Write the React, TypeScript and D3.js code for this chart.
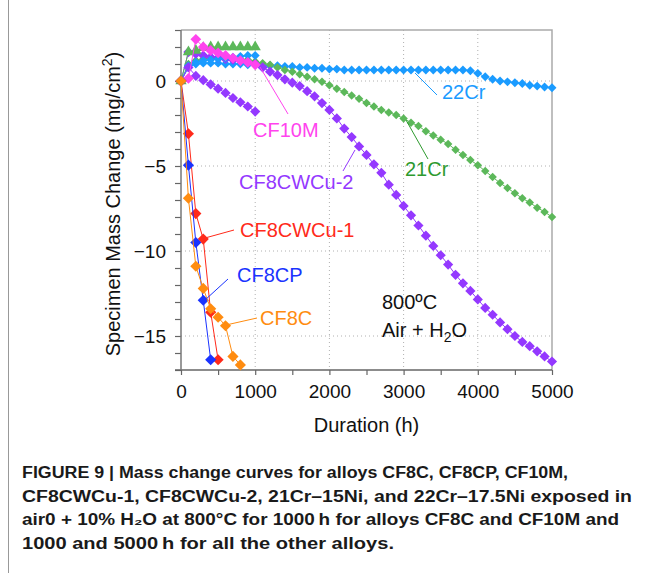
import React, { useEffect, useRef } from 'react';
import * as d3 from 'd3';

// hours for the long (5000 h) exposures
const hoursLong = [
  0, 100, 200, 300, 400, 500, 600, 700, 800, 900,
  1000, 1100, 1200, 1300, 1400, 1500, 1600, 1700, 1800, 1900,
  2000, 2100, 2200, 2300, 2400, 2500, 2600, 2700, 2800, 2900,
  3000, 3100, 3200, 3300, 3400, 3500, 3600, 3700, 3800, 3900,
  4000, 4100, 4200, 4300, 4400, 4500, 4600, 4700, 4800, 4900, 5000,
];
// hours for the short (1000 h) exposures
const hoursShort = [0, 100, 200, 300, 400, 500, 600, 700, 800, 900, 1000];

const cr22Long = [
  0, 0.8, 1.0, 1.05, 1.05, 1.05, 1.0, 1.0, 1.0, 0.95,
  0.95, 0.9, 0.9, 0.9, 0.85, 0.85, 0.8, 0.8, 0.75, 0.75,
  0.7, 0.7, 0.65, 0.65, 0.65, 0.65, 0.65, 0.65, 0.65, 0.65,
  0.65, 0.65, 0.65, 0.65, 0.65, 0.65, 0.65, 0.65, 0.65, 0.6,
  0.45, 0.25, 0.1, 0.0, -0.05, -0.1, -0.15, -0.25, -0.3, -0.35, -0.4,
];
const cr21Long = [
  0, 1.0, 1.2, 1.3, 1.35, 1.4, 1.4, 1.35, 1.3, 1.25,
  1.15, 1.05, 0.95, 0.8, 0.65, 0.55, 0.4, 0.25, 0.1, -0.05,
  -0.25, -0.45, -0.65, -0.85, -1.05, -1.3, -1.5, -1.7, -1.85, -2.0,
  -2.2, -2.45, -2.65, -2.95, -3.2, -3.45, -3.7, -4.05, -4.35, -4.65,
  -4.95, -5.3, -5.65, -6.0, -6.3, -6.6, -6.9, -7.15, -7.45, -7.7, -8.0,
];
const cu2Long = [
  0, 1.7, 1.6, 1.5, 1.4, 1.35, 1.3, 1.25, 1.2, 1.1,
  1.0, 0.8, 0.55, 0.35, 0.1, -0.1, -0.3, -0.6, -0.9, -1.3,
  -1.7, -2.2, -2.8, -3.3, -3.85, -4.35, -4.9, -5.4, -6.1, -6.7,
  -7.35, -7.9, -8.5, -9.1, -9.7, -10.25, -10.8, -11.4, -11.9, -12.35,
  -12.85, -13.35, -13.75, -14.2, -14.6, -15.0, -15.35, -15.6, -15.9, -16.2, -16.5,
];

const cr21Short = [0, 1.7, 1.8, 1.95, 2.0, 2.0, 2.0, 2.0, 2.0, 2.0, 2.0];
const cr22Short = [0, 0.9, 1.1, 1.2, 1.25, 1.3, 1.35, 1.4, 1.45, 1.5, 1.5];
const cu2Short = [0, 0.8, 0.3, 0.05, -0.2, -0.45, -0.7, -1.0, -1.25, -1.5, -1.8];
const cf10m = [0, 0.15, 2.45, 2.0, 1.8, 1.65, 1.5, 1.35, 1.2, 1.1, 0.95];

const hoursCu1 = [0, 100, 200, 300, 400, 500];
const cu1 = [0, -3.1, -7.8, -9.3, -13.6, -16.4];
const hoursCP = [0, 100, 200, 300, 400];
const cf8cp = [0, -4.95, -9.5, -12.9, -16.4];
const hoursC = [0, 100, 200, 300, 400, 500, 600, 700, 800];
const cf8c = [0, -6.9, -10.9, -12.2, -13.4, -13.9, -14.4, -16.2, -16.7];

const xTicks = [0, 500, 1000, 1500, 2000, 2500, 3000, 3500, 4000, 4500, 5000];
const xLabels = [0, 1000, 2000, 3000, 4000, 5000];
const yLabels = [0, -5, -10, -15];

const captionLines = [
  'FIGURE 9 | Mass change curves for alloys CF8C, CF8CP, CF10M,',
  'CF8CWCu-1, CF8CWCu-2, 21Cr\u201315Ni, and 22Cr\u201317.5Ni exposed in',
  'air0 + 10% H\u2082O at 800\u00b0C for 1000\u2009h for alloys CF8C and CF10M and',
  '1000 and 5000\u2009h for all the other alloys.',
];

const FONT = '"Liberation Sans", Arial, Helvetica, sans-serif';

const App = () => {
  const ref = useRef<SVGSVGElement>(null);

  useEffect(() => {
    const svg = d3.select(ref.current);
    svg.selectAll('*').remove();

    const x = d3.scaleLinear().domain([0, 5000]).range([181, 552]);
    const y = d3.scaleLinear().domain([-17, 3]).range([370, 30]);

    svg.append('rect').attr('width', 659).attr('height', 573).attr('fill', '#fff');
    svg.append('line')
      .attr('x1', 8.5).attr('x2', 8.5).attr('y1', 0).attr('y2', 573)
      .attr('stroke', '#999').attr('stroke-width', 1);

    // dotted grid
    const grid = svg.append('g').attr('stroke', '#b0b0b0').attr('stroke-dasharray', '1,3');
    xLabels.slice(1, -1).forEach(v => {
      grid.append('line').attr('x1', x(v)).attr('x2', x(v)).attr('y1', y(3)).attr('y2', y(-17));
    });
    yLabels.forEach(v => {
      grid.append('line').attr('x1', x(0)).attr('x2', x(5000)).attr('y1', y(v)).attr('y2', y(v));
    });

    // frame top / right
    svg.append('path')
      .attr('d', `M${x(0)},${y(3)}H${x(5000)}V${y(-17)}`)
      .attr('fill', 'none').attr('stroke', '#aaa').attr('stroke-width', 1.5);

    // axes
    const xAxis = svg.append('g')
      .attr('transform', `translate(0,${y(-17)})`)
      .call(d3.axisBottom(x).tickValues(xTicks).tickSize(5).tickSizeOuter(0)
        .tickFormat(d => (xLabels.includes(+d) ? String(d) : '')));
    xAxis.select('.domain').remove();
    xAxis.selectAll('line').attr('stroke', '#666').attr('stroke-width', 1.2);
    xAxis.selectAll('text').attr('font-size', 19).attr('font-family', FONT).attr('fill', '#111').attr('dy', '1.05em');

    const yAxis = svg.append('g')
      .attr('transform', `translate(${x(0)},0)`)
      .call(d3.axisLeft(y).tickValues(d3.range(-17, 4)).tickSize(6).tickSizeOuter(0)
        .tickFormat(d => (yLabels.includes(+d) ? d3.format('')(+d) : '')));
    yAxis.select('.domain').remove();
    yAxis.selectAll('line').attr('stroke', '#666').attr('stroke-width', 1.2);
    yAxis.selectAll('text').attr('font-size', 19).attr('font-family', FONT).attr('fill', '#111').attr('x', -15);

    svg.append('line')
      .attr('x1', x(0) - 6).attr('x2', x(5000)).attr('y1', y(-17)).attr('y2', y(-17))
      .attr('stroke', '#666').attr('stroke-width', 1.5);
    svg.append('line')
      .attr('x1', x(0)).attr('x2', x(0)).attr('y1', y(3)).attr('y2', y(-17))
      .attr('stroke', '#777').attr('stroke-width', 1.5);

    const plot = svg.append('g');
    const drawSeries = (hours: number[], vals: number[], color: string, shape: string, size: number) => {
      const pts = hours.map((h, i) => [h, vals[i]] as [number, number]);
      plot.append('path')
        .datum(pts)
        .attr('d', d3.line<[number, number]>().x(d => x(d[0])).y(d => y(d[1])))
        .attr('fill', 'none').attr('stroke', color).attr('stroke-width', 1);
      const sym = d3.symbol().type(shape === 'tri' ? d3.symbolTriangle : d3.symbolSquare).size(size);
      plot.selectAll(null)
        .data(pts)
        .enter()
        .append('path')
        .attr('d', sym())
        .attr('transform', d => `translate(${x(d[0])},${y(d[1])})${shape === 'tri' ? '' : ' rotate(45)'}`)
        .attr('fill', color);
    };

    drawSeries(hoursLong, cr22Long, '#1a9bff', 'dia', 40);
    drawSeries(hoursLong, cr21Long, '#5cb85a', 'dia', 36);
    drawSeries(hoursLong, cu2Long, '#9438ff', 'dia', 52);
    drawSeries(hoursShort, cr21Short, '#5cb85a', 'tri', 55);
    drawSeries(hoursShort, cr22Short, '#1a9bff', 'dia', 40);
    drawSeries(hoursShort, cu2Short, '#9438ff', 'dia', 52);
    drawSeries(hoursShort, cf10m, '#ff44ee', 'dia', 58);
    drawSeries(hoursCu1, cu1, '#ff2a1a', 'dia', 62);
    drawSeries(hoursCP, cf8cp, '#1a33ff', 'dia', 62);
    drawSeries(hoursC, cf8c, '#ff8c10', 'dia', 62);

    // series labels with leader lines
    const labels = [
      { text: '22Cr', color: '#1a9bff', tx: 442, ty: 99, l: [415, 73, 437, 95] },
      { text: 'CF10M', color: '#ff44ee', tx: 253, ty: 137, l: [260, 67, 288, 114] },
      { text: 'CF8CWCu-2', color: '#9438ff', tx: 239, ty: 189, l: [355, 150, 343, 171] },
      { text: '21Cr', color: '#2e9a2e', tx: 405, ty: 176, l: [406, 120, 428, 159] },
      { text: 'CF8CWCu-1', color: '#ff2a1a', tx: 240, ty: 237, l: [205, 238, 234, 230] },
      { text: 'CF8CP', color: '#1a33ff', tx: 237, ty: 282, l: [205, 300, 228, 279] },
      { text: 'CF8C', color: '#ff8c10', tx: 260, ty: 325, l: [226, 325, 257, 318] },
    ];
    labels.forEach(lb => {
      svg.append('line')
        .attr('x1', lb.l[0]).attr('y1', lb.l[1]).attr('x2', lb.l[2]).attr('y2', lb.l[3])
        .attr('stroke', lb.color).attr('stroke-width', 1);
      svg.append('text')
        .attr('x', lb.tx).attr('y', lb.ty)
        .attr('font-family', FONT).attr('font-size', 20).attr('fill', lb.color)
        .text(lb.text);
    });

    svg.append('text')
      .attr('x', 382).attr('y', 309)
      .attr('font-family', FONT).attr('font-size', 20).attr('fill', '#111')
      .text('800\u00baC');
    const air = svg.append('text')
      .attr('x', 382).attr('y', 337)
      .attr('font-family', FONT).attr('font-size', 20).attr('fill', '#111');
    air.append('tspan').text('Air + H');
    air.append('tspan').attr('font-size', 14).attr('dy', 5).text('2');
    air.append('tspan').attr('dy', -5).text('O');

    // axis titles
    svg.append('text')
      .attr('x', x(2500)).attr('y', 432)
      .attr('text-anchor', 'middle')
      .attr('font-family', FONT).attr('font-size', 20).attr('fill', '#111')
      .text('Duration (h)');
    const yt = svg.append('text')
      .attr('transform', 'translate(120,204) rotate(-90)')
      .attr('text-anchor', 'middle')
      .attr('font-family', FONT).attr('font-size', 20).attr('fill', '#111');
    yt.append('tspan').text('Specimen Mass Change (mg/cm');
    yt.append('tspan').attr('font-size', 14).attr('dy', -8).text('2');
    yt.append('tspan').attr('dy', 8).text(')');

    // caption
    const widths = [546, 610, 597, 372];
    captionLines.forEach((c, i) => {
      svg.append('text')
        .attr('x', 22).attr('y', 478 + i * 23.6)
        .attr('font-family', FONT).attr('font-size', 16).attr('font-weight', 'bold')
        .attr('fill', '#1a1a1a')
        .attr('textLength', widths[i]).attr('lengthAdjust', 'spacingAndGlyphs')
        .text(c);
    });
  }, []);

  return (
    <svg ref={ref} width={659} height={573}
      style={{ position: 'absolute', left: 0, top: 0, display: 'block' }} />
  );
};

export default App;
